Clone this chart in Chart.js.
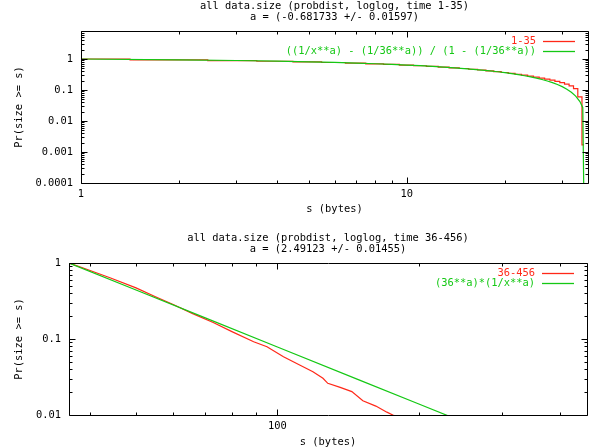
<!DOCTYPE html>
<html>
<head>
<meta charset="utf-8">
<title>all data.size (probdist, loglog)</title>
<script src="https://cdn.jsdelivr.net/npm/chart.js@4.4.1/dist/chart.umd.min.js"></script>
<style>
    html, body { margin: 0; padding: 0; background: #fff; }
    canvas { display: block; }
</style>
</head>
<body>
<canvas id="top-chart" width="592" height="224"></canvas>
<canvas id="bottom-chart" width="592" height="224"></canvas>
<script>
"use strict";

// Top plot: sizes 1-35 (data) and fitted curve
const topSizes = [1, 2, 3, 4, 5, 6, 7, 8, 9, 10, 11, 12, 13, 14, 15, 16, 17, 18,
    19, 20, 21, 22, 23, 24, 25, 26, 27, 28, 29, 30, 31, 32, 33, 34, 35];
const topProb = [1, 0.935, 0.885, 0.845, 0.805, 0.77, 0.735, 0.70, 0.668, 0.636,
    0.606, 0.577, 0.548, 0.52, 0.493, 0.467, 0.441, 0.416, 0.391, 0.367, 0.344,
    0.322, 0.301, 0.281, 0.262, 0.243, 0.225, 0.208, 0.19, 0.172, 0.155, 0.135,
    0.11, 0.06, 0.0017];
const topFitX = [1, 2, 3, 4, 5, 6, 7, 8, 9, 10, 11, 12, 13, 14, 15, 16, 17, 18,
    19, 20, 21, 22, 23, 24, 25, 26, 27, 28, 29, 30, 31, 32, 33, 34, 34.7, 36];
const topFitY = [1, 0.9425, 0.8939, 0.8503, 0.8102, 0.7724, 0.7366, 0.7025, 0.6696,
    0.6380, 0.6072, 0.5774, 0.5484, 0.5201, 0.4924, 0.4653, 0.4387, 0.4126, 0.3871,
    0.3618, 0.3370, 0.3126, 0.2885, 0.2648, 0.2413, 0.2182, 0.1952, 0.1727, 0.1503,
    0.1283, 0.1064, 0.0849, 0.0635, 0.0422, 0.0270, 1e-16];

// Bottom plot: sizes 36-456 (data) and fitted power law
const bottomSizes = [36, 38.6, 44, 50, 55, 60, 66, 73, 80, 89, 95, 103, 111.5, 119,
    125, 128, 136, 144, 152, 162, 171, 176, 190, 220, 260, 330, 456];
const bottomProb = [1, 0.86, 0.64, 0.47, 0.36, 0.284, 0.216, 0.165, 0.125, 0.092,
    0.079, 0.0585, 0.0455, 0.0371, 0.0304, 0.0261, 0.0231, 0.0203, 0.0154, 0.0131,
    0.0109, 0.0100, 0.0085, 0.006, 0.0042, 0.0024, 0.0009];
const bottomFitX = [36, 50, 70, 100, 150, 200, 300, 456];
const bottomFitY = [1, 0.4411, 0.1908, 0.07845, 0.02858, 0.01395, 0.00508, 0.00179];

// Axis decades (labelled ticks)
const topXDecades = [1, 10];
const topYDecades = [0.0001, 0.001, 0.01, 0.1, 1];
const bottomXDecades = [10, 100];
const bottomYDecades = [0.01, 0.1, 1];

const FONT = '"DejaVu Sans Mono", "Liberation Mono", monospace';
const FONT_SIZE = 10.4;
const RED = '#ff2818';
const GREEN = '#14c814';

function logTicks(decades, min, max) {
    var ticks = [];
    decades.forEach(function (d) {
        for (var m = 1; m <= 9; m++) {
            var v = +(d * m).toPrecision(6);
            if (v >= min && v <= max) ticks.push(v);
        }
    });
    return ticks;
}

function toPoints(xs, ys) {
    return xs.map(function (x, i) { return {x: x, y: ys[i]}; });
}

// gnuplot look: border, inward ticks, titles and legend
function gnuplotFrame(titleLines, xMajor, yMajor) {
    return {
        id: 'gnuplotFrame',
        afterDraw: function (chart) {
            var ctx = chart.ctx;
            var area = chart.chartArea;
            var xs = chart.scales.x, ys = chart.scales.y;
            var l = Math.round(area.left) + 0.5, r = Math.round(area.right) + 0.5;
            var t = Math.round(area.top) + 0.5, b = Math.round(area.bottom) + 0.5;
            ctx.save();
            ctx.strokeStyle = '#000';
            ctx.lineWidth = 1;
            ctx.beginPath();
            ctx.rect(l, t, r - l, b - t);
            xs.ticks.forEach(function (tk) {
                var px = Math.round(xs.getPixelForValue(tk.value)) + 0.5;
                var len = xMajor.indexOf(tk.value) >= 0 ? 6 : 3;
                ctx.moveTo(px, b); ctx.lineTo(px, b - len);
                ctx.moveTo(px, t); ctx.lineTo(px, t + len);
            });
            ys.ticks.forEach(function (tk) {
                var py = Math.round(ys.getPixelForValue(tk.value)) + 0.5;
                var len = yMajor.indexOf(tk.value) >= 0 ? 6 : 3;
                ctx.moveTo(l, py); ctx.lineTo(l + len, py);
                ctx.moveTo(r, py); ctx.lineTo(r - len, py);
            });
            ctx.stroke();

            ctx.font = FONT_SIZE + 'px ' + FONT;
            ctx.textBaseline = 'middle';
            ctx.fillStyle = '#000';
            ctx.textAlign = 'center';
            var cx = (area.left + area.right) / 2;
            titleLines.forEach(function (line, i) {
                ctx.fillText(line, cx, area.top - 25 + 11 * i);
            });

            ctx.textAlign = 'right';
            chart.data.datasets.forEach(function (ds, i) {
                var y = Math.round(area.top + 9.5 + 10.5 * i) + 0.5;
                ctx.fillStyle = ds.borderColor;
                ctx.fillText(ds.label, area.right - 52, y);
                ctx.strokeStyle = ds.borderColor;
                ctx.lineWidth = 1.3;
                ctx.beginPath();
                ctx.moveTo(area.right - 45, y);
                ctx.lineTo(area.right - 13, y);
                ctx.stroke();
            });
            ctx.restore();
        }
    };
}

function makeChart(id, cfg) {
    var font = {family: FONT, size: FONT_SIZE, lineHeight: 1.15};
    return new Chart(document.getElementById(id), {
        type: 'line',
        data: {
            datasets: [{
                label: cfg.dataLabel,
                data: toPoints(cfg.dataX, cfg.dataY),
                borderColor: RED,
                borderWidth: 1.2,
                pointRadius: 0,
                stepped: cfg.stepped,
                order: 1
            }, {
                label: cfg.fitLabel,
                data: toPoints(cfg.fitX, cfg.fitY),
                borderColor: GREEN,
                borderWidth: 1.2,
                pointRadius: 0,
                order: 0
            }]
        },
        options: {
            responsive: false,
            animation: false,
            events: [],
            layout: {padding: cfg.padding},
            plugins: {legend: {display: false}, tooltip: {enabled: false}},
            scales: {
                x: {
                    type: 'logarithmic',
                    min: cfg.xMin,
                    max: cfg.xMax,
                    grid: {display: false, drawTicks: false},
                    border: {display: false},
                    afterBuildTicks: function (scale) {
                        scale.ticks = cfg.xTicks.map(function (v) { return {value: v}; });
                    },
                    afterFit: function (scale) { scale.height = cfg.xHeight; },
                    ticks: {
                        autoSkip: false,
                        maxRotation: 0,
                        padding: 5,
                        color: '#000',
                        font: font,
                        callback: function (v) { return cfg.xLabels.indexOf(v) >= 0 ? String(v) : ''; }
                    },
                    title: {
                        display: true,
                        text: 's (bytes)',
                        color: '#000',
                        font: font,
                        padding: {top: 0, bottom: cfg.xTitlePad}
                    }
                },
                y: {
                    type: 'logarithmic',
                    min: cfg.yMin,
                    max: cfg.yMax,
                    grid: {display: false, drawTicks: false},
                    border: {display: false},
                    afterBuildTicks: function (scale) {
                        scale.ticks = cfg.yTicks.map(function (v) { return {value: v}; });
                    },
                    afterFit: function (scale) { scale.width = cfg.yWidth; },
                    ticks: {
                        autoSkip: false,
                        padding: 8,
                        color: '#000',
                        font: font,
                        callback: function (v) { return cfg.yLabels.indexOf(v) >= 0 ? String(v) : ''; }
                    },
                    title: {
                        display: true,
                        text: 'Pr(size >= s)',
                        color: '#000',
                        font: font,
                        padding: {top: 13, bottom: 0}
                    }
                }
            }
        },
        plugins: [gnuplotFrame(cfg.title, cfg.xLabels, cfg.yLabels)]
    });
}

makeChart('top-chart', {
    title: ['all data.size (probdist, loglog, time 1-35)', 'a = (-0.681733 +/- 0.01597)'],
    dataLabel: '1-35',
    fitLabel: '((1/x**a) - (1/36**a)) / (1 - (1/36**a))',
    dataX: topSizes, dataY: topProb, stepped: 'middle',
    fitX: topFitX, fitY: topFitY,
    xMin: 1, xMax: 36, yMin: 0.0001, yMax: 8,
    xTicks: logTicks(topXDecades, 1, 36), xLabels: topXDecades,
    yTicks: logTicks(topYDecades, 0.0001, 8), yLabels: topYDecades,
    padding: {top: 31, right: 4, bottom: 0, left: 0},
    xHeight: 41, yWidth: 81, xTitlePad: 9
});

makeChart('bottom-chart', {
    title: ['all data.size (probdist, loglog, time 36-456)', 'a = (2.49123 +/- 0.01455)'],
    dataLabel: '36-456',
    fitLabel: '(36**a)*(1/x**a)',
    dataX: bottomSizes, dataY: bottomProb, stepped: false,
    fitX: bottomFitX, fitY: bottomFitY,
    xMin: 36, xMax: 456, yMin: 0.01, yMax: 1,
    xTicks: logTicks(bottomXDecades, 36, 456), xLabels: [100],
    yTicks: logTicks(bottomYDecades, 0.01, 1), yLabels: bottomYDecades,
    padding: {top: 39, right: 5, bottom: 0, left: 0},
    xHeight: 33, yWidth: 69, xTitlePad: 0
});
</script>
</body>
</html>
